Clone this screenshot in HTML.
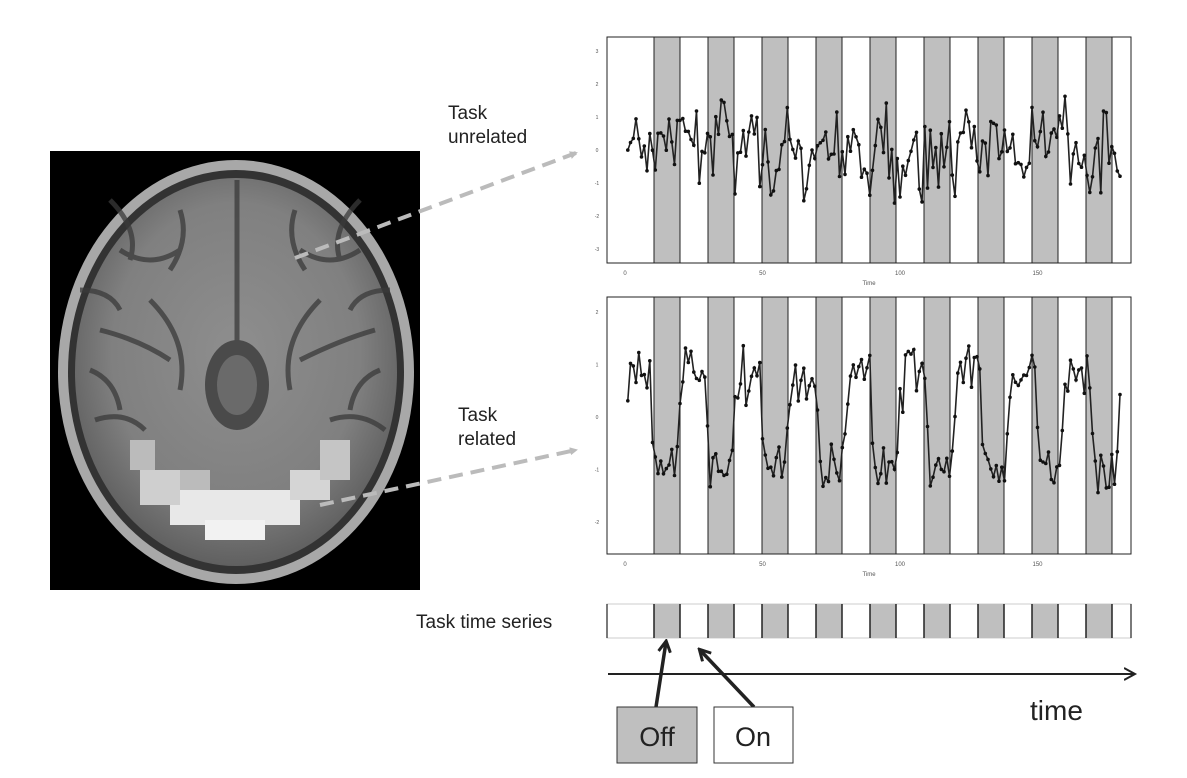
<!DOCTYPE html>
<html><head><meta charset="utf-8"><style>
html,body{margin:0;padding:0;background:#fff;}
body{width:1187px;height:778px;overflow:hidden;position:relative;font-family:"Liberation Sans",sans-serif;}
.lbl{position:absolute;font-size:19px;color:#222;line-height:24px;}
</style></head><body>
<svg id="s" width="1187" height="778" style="position:absolute;left:0;top:0">
<defs>
<radialGradient id="br" cx="50%" cy="45%" r="55%">
<stop offset="0" stop-color="#8e8e8e"/><stop offset="0.7" stop-color="#808080"/><stop offset="1" stop-color="#606060"/>
</radialGradient>
<marker id="ga" markerWidth="8" markerHeight="8" refX="6" refY="4" orient="auto" markerUnits="userSpaceOnUse"><path d="M0,0 L8,4 L0,8 z" fill="#bbb"/></marker>
<marker id="ka" markerWidth="14" markerHeight="14" refX="10" refY="7" orient="auto" markerUnits="userSpaceOnUse"><path d="M0,1 L11,7 L0,13" fill="none" stroke="#222" stroke-width="2"/></marker>
<marker id="kb" markerWidth="14" markerHeight="14" refX="11" refY="7" orient="auto" markerUnits="userSpaceOnUse"><path d="M1,1 L12,7 L1,13" fill="none" stroke="#222" stroke-width="3"/></marker>
</defs>
<rect x="50" y="151" width="370" height="439" fill="#000"/>
<ellipse cx="236" cy="372" rx="178" ry="212" fill="#a8a8a8"/>
<ellipse cx="236" cy="372" rx="168" ry="202" fill="#333"/>
<ellipse cx="236" cy="372" rx="161" ry="194" fill="url(#br)"/>
<g stroke="#3a3a3a" stroke-width="5" fill="none" opacity="0.75">
<path d="M237,180 L237,400"/>
<path d="M120,250 q30,20 60,0 M300,250 q30,20 60,0 M100,330 q40,10 70,30 M300,360 q40,-20 75,-30"/>
<path d="M150,300 q40,40 30,90 M320,300 q-40,40 -30,90"/>
<path d="M95,420 q30,-10 50,10 M330,420 q30,-10 55,10"/>
<path d="M110,200 q30,30 20,60 M360,200 q-30,30 -20,60 M80,290 q30,0 40,20 M390,290 q-30,0 -40,20"/>
<path d="M180,210 q10,30 -10,60 M295,210 q-10,30 10,60 M90,370 q25,10 30,40 M380,370 q-25,10 -30,40"/>
</g>
<ellipse cx="237" cy="385" rx="32" ry="45" fill="#4a4a4a"/>
<ellipse cx="237" cy="385" rx="20" ry="30" fill="#6a6a6a"/>
<g>
<rect x="170" y="490" width="130" height="35" fill="#e8e8e8"/>
<rect x="140" y="470" width="40" height="35" fill="#cfcfcf"/>
<rect x="290" y="470" width="40" height="30" fill="#d5d5d5"/>
<rect x="205" y="520" width="60" height="20" fill="#f2f2f2"/>
<rect x="130" y="440" width="25" height="30" fill="#bbb"/>
<rect x="320" y="440" width="30" height="40" fill="#c5c5c5"/>
<rect x="180" y="470" width="30" height="20" fill="#bbb"/>
</g>
<line x1="295" y1="258" x2="576" y2="153" stroke="#bbb" stroke-width="4" stroke-dasharray="14,8" marker-end="url(#ga)"/>
<line x1="320" y1="505" x2="576" y2="450" stroke="#bbb" stroke-width="4" stroke-dasharray="14,8" marker-end="url(#ga)"/>
<g id="plots"></g>
<g id="task"></g>
<line x1="608" y1="674" x2="1134" y2="674" stroke="#222" stroke-width="2" marker-end="url(#ka)"/>
<line x1="656" y1="707" x2="666" y2="642" stroke="#222" stroke-width="3.5" marker-end="url(#kb)"/>
<line x1="754" y1="707" x2="700" y2="650" stroke="#222" stroke-width="3.5" marker-end="url(#kb)"/>
<rect x="617" y="707" width="80" height="56" fill="#bfbfbf" stroke="#333" stroke-width="1"/>
<rect x="714" y="707" width="79" height="56" fill="#fff" stroke="#333" stroke-width="1"/>
<text x="657" y="746" font-size="27" text-anchor="middle" fill="#222" font-family="Liberation Sans">Off</text>
<text x="753" y="746" font-size="27" text-anchor="middle" fill="#222" font-family="Liberation Sans">On</text>
<text x="1030" y="720" font-size="28" fill="#222" font-family="Liberation Sans">time</text>
<text x="416" y="628" font-size="19" fill="#222" font-family="Liberation Sans">Task time series</text>
</svg>
<div class="lbl" style="left:448px;top:102px">Task<br>unrelated</div>
<div class="lbl" style="left:458px;top:404px">Task<br>related</div>
<script>
var NS="http://www.w3.org/2000/svg";
function el(p,t,a){var e=document.createElementNS(NS,t);for(var k in a)e.setAttribute(k,a[k]);p.appendChild(e);return e;}
var seed=7;function rnd(){seed=(seed*16807)%2147483647;return seed/2147483647;}
function gauss(){return (rnd()+rnd()+rnd()+rnd()-2)*1.2;}
var P=document.getElementById("plots");
var stripes=[654,708,762,816,870,924,978,1032,1086];
function tx(t){return 625+t*2.75;}
function plot(y0,y1,zero,scale,fn,ticks){
 el(P,"rect",{x:607,y:y0,width:524,height:y1-y0,fill:"#fff"});
 stripes.forEach(function(s){el(P,"rect",{x:s,y:y0,width:26,height:y1-y0,fill:"#bfbfbf"});});
 stripes.forEach(function(s){el(P,"line",{x1:s,y1:y0,x2:s,y2:y1,stroke:"#222","stroke-width":1});el(P,"line",{x1:s+26,y1:y0,x2:s+26,y2:y1,stroke:"#222","stroke-width":1});});
 el(P,"rect",{x:607,y:y0,width:524,height:y1-y0,fill:"none",stroke:"#222","stroke-width":1});
 var pts=[];for(var t=1;t<=180;t++){pts.push(tx(t).toFixed(1)+","+(zero-fn(t)*scale).toFixed(1));}
 el(P,"polyline",{points:pts.join(" "),fill:"none",stroke:"#222","stroke-width":1.6});
 pts.forEach(function(p){var q=p.split(",");el(P,"circle",{cx:q[0],cy:q[1],r:1.8,fill:"#111"});});
 [0,50,100,150].forEach(function(v){var t=el(P,"text",{x:tx(v),y:y1+12,"font-size":6,"text-anchor":"middle",fill:"#555"});t.textContent=v;});
 var tt=el(P,"text",{x:869,y:y1+22,"font-size":6,"text-anchor":"middle",fill:"#555"});tt.textContent="Time";
 ticks.forEach(function(v){var t=el(P,"text",{x:597,y:zero-v*scale+2,"font-size":5,"text-anchor":"middle",fill:"#555"});t.textContent=v;});
}
var slow=0;
plot(37,263,150,33,function(t){slow=0.75*slow+gauss()*0.45;return slow+gauss()*0.75;},[3,2,1,0,-1,-2,-3]);
seed=99;
plot(297,554,417,52.5,function(t){var ph=((t-10)%20+20)%20;var on=ph>=10;var v=on?0.9:-1.0;
 var edge=Math.min(ph,20-ph,Math.abs(ph-10));if(edge<2)v*=0.4+edge*0.3;return v+gauss()*0.35;},[2,1,0,-1,-2]);
var T=document.getElementById("task");
el(T,"rect",{x:607,y:604,width:524,height:34,fill:"#fff",stroke:"#ccc","stroke-width":1});
el(T,"line",{x1:607,y1:604,x2:607,y2:638,stroke:"#222","stroke-width":1.2});
el(T,"line",{x1:1131,y1:604,x2:1131,y2:638,stroke:"#222","stroke-width":1.2});
stripes.forEach(function(s){el(T,"rect",{x:s,y:604,width:26,height:34,fill:"#bfbfbf"});
el(T,"line",{x1:s,y1:604,x2:s,y2:638,stroke:"#222","stroke-width":1.5});el(T,"line",{x1:s+26,y1:604,x2:s+26,y2:638,stroke:"#222","stroke-width":1.5});});
</script>
</body></html>
